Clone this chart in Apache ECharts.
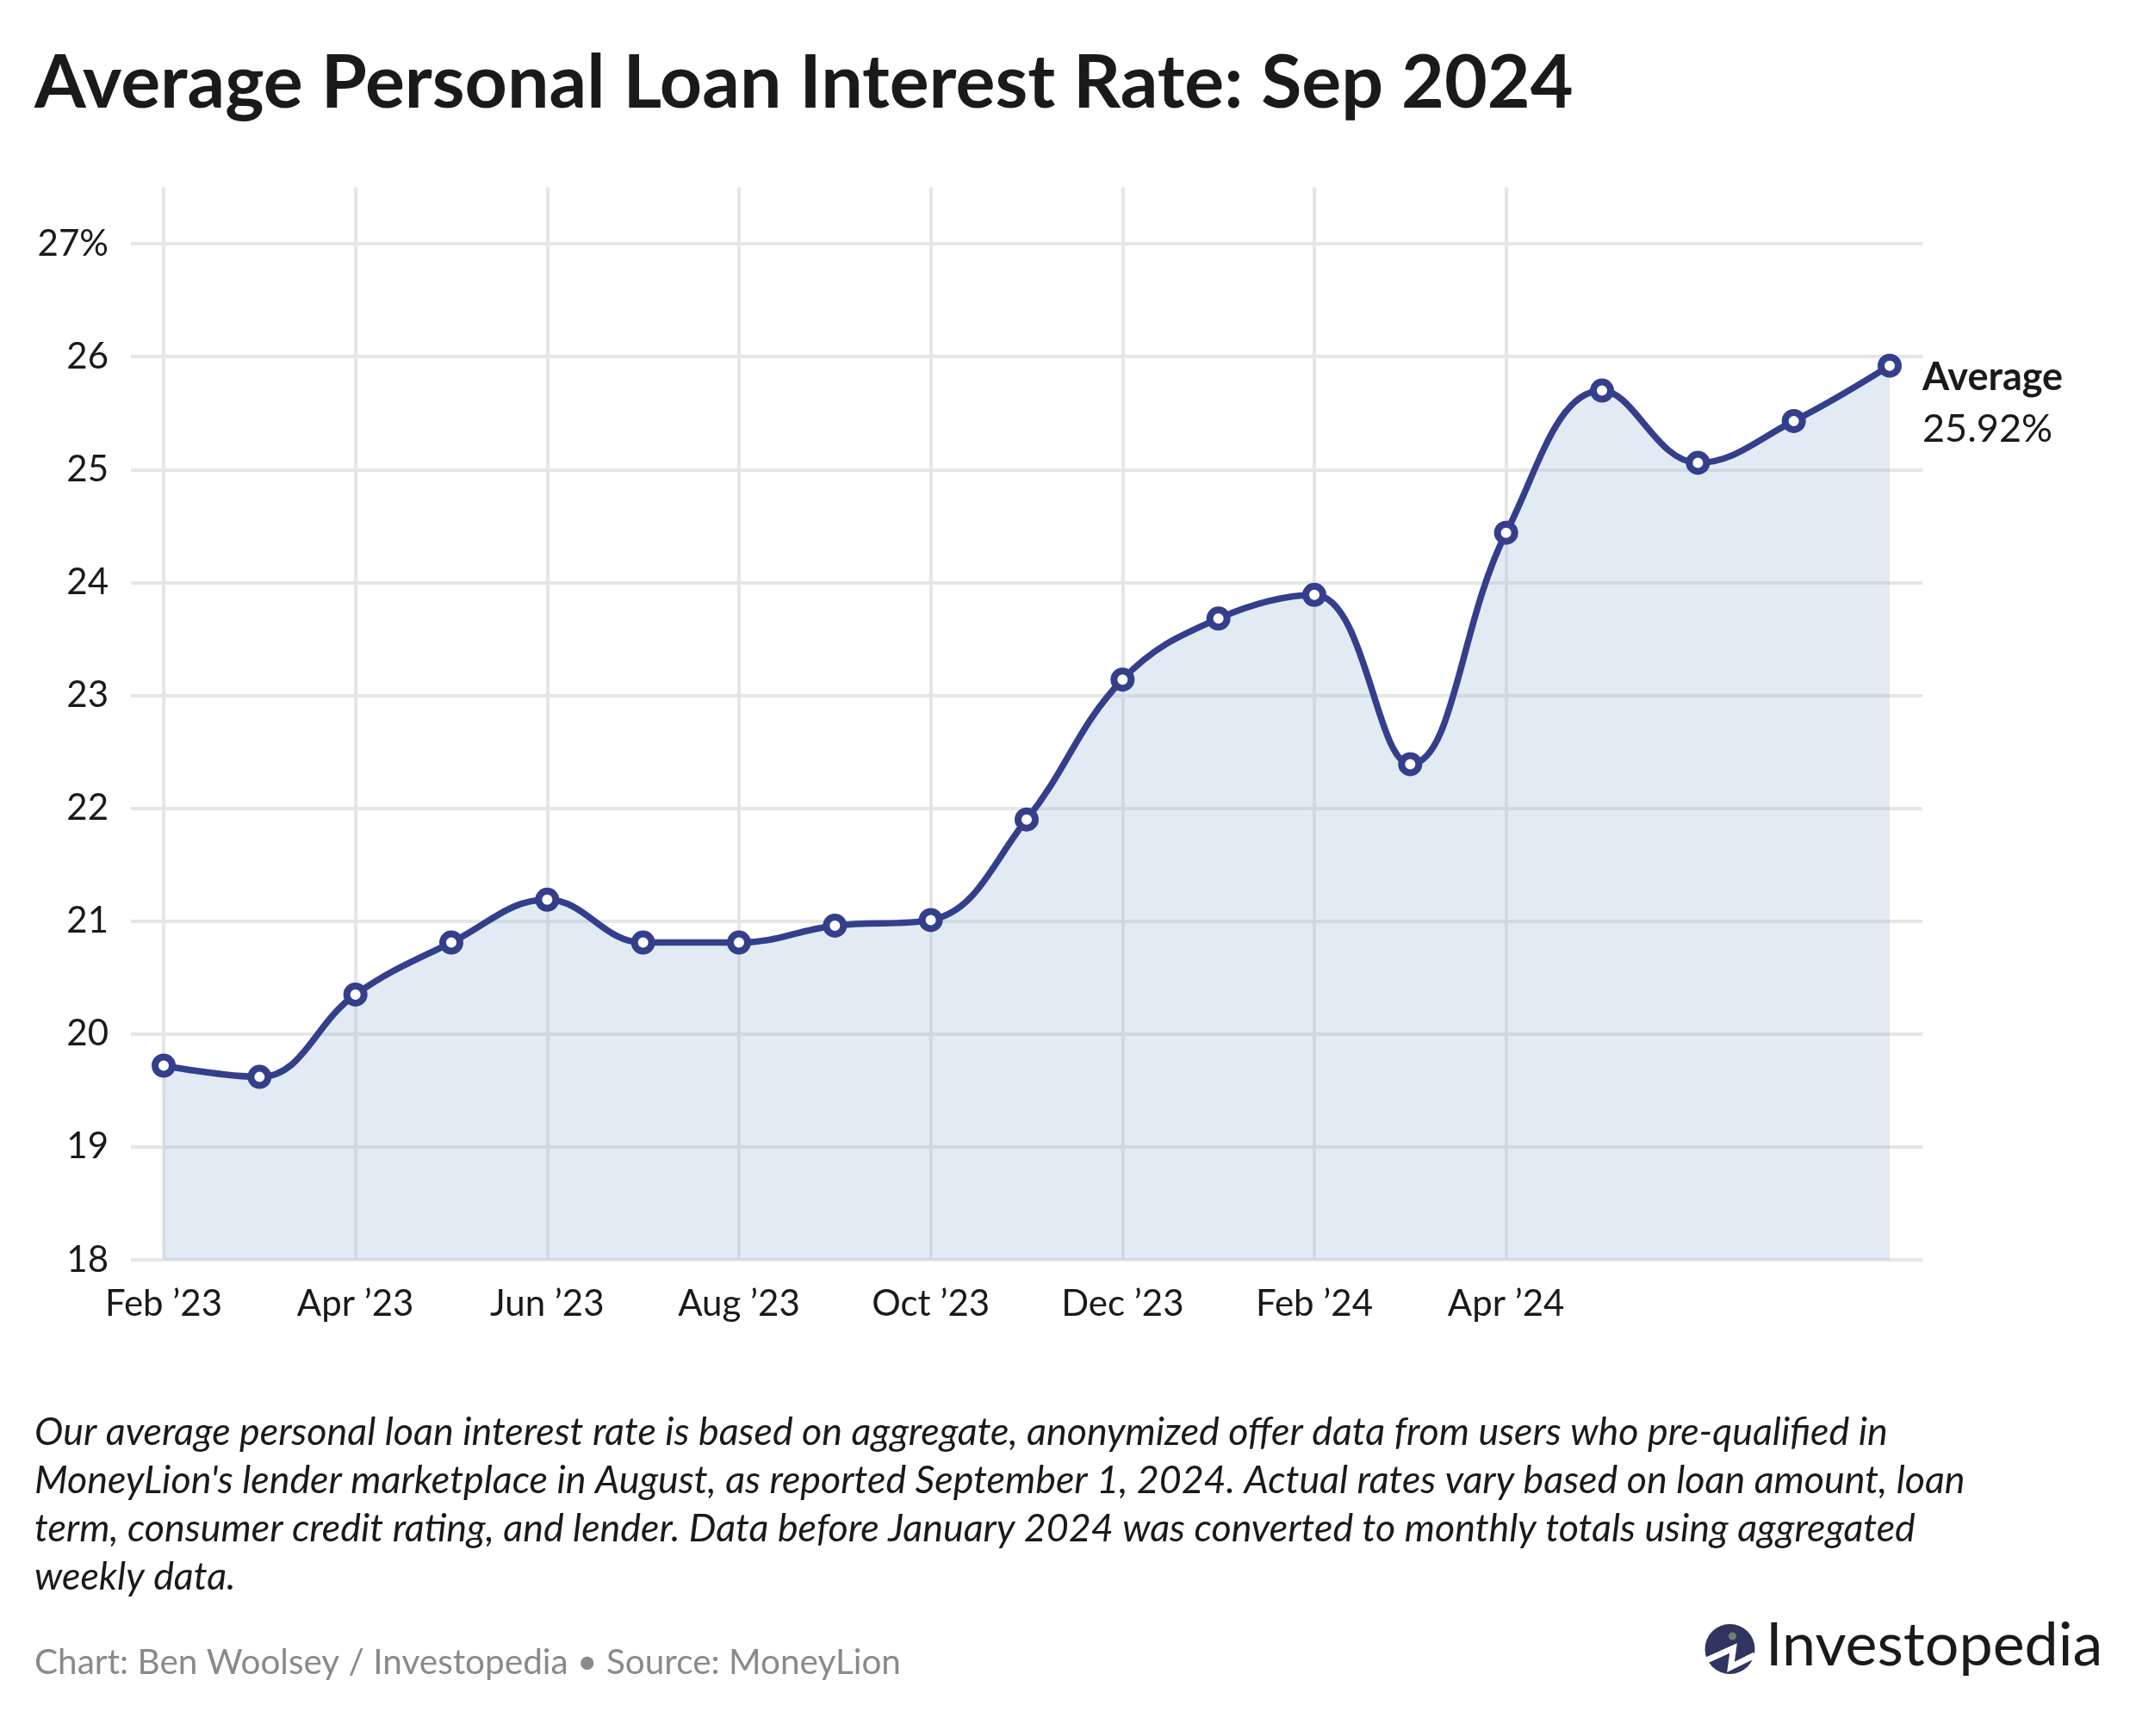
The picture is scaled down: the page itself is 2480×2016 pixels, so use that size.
<!DOCTYPE html>
<html>
<head>
<meta charset="utf-8">
<script src="https://cdn.jsdelivr.net/npm/echarts@6/dist/echarts.min.js"></script>
<style>
html,body{margin:0;padding:0;background:#fff;}
#chart{width:2480px;height:2016px;}
</style>
</head>
<body>
<div id="chart"></div>
<script>
// ---- data ----
const months = ["Feb ’23","Mar ’23","Apr ’23","May ’23","Jun ’23","Jul ’23","Aug ’23","Sep ’23","Oct ’23","Nov ’23","Dec ’23","Jan ’24","Feb ’24","Mar ’24","Apr ’24","May ’24","Jun ’24","Jul ’24","Aug ’24"];
const rates = [19.72,19.62,20.35,20.81,21.19,20.81,20.81,20.96,21.01,21.90,23.14,23.68,23.89,22.39,24.44,25.70,25.06,25.43,25.92];
const labeledMonths = ["Feb ’23","Apr ’23","Jun ’23","Aug ’23","Oct ’23","Dec ’23","Feb ’24","Apr ’24"];
const yMin = 18, yMax = 27, yStep = 1;
const seriesName = "Average";
const titleText = "Average Personal Loan Interest Rate: Sep 2024";
const noteLines = [
  "Our average personal loan interest rate is based on aggregate, anonymized offer data from users who pre-qualified in",
  "MoneyLion's lender marketplace in August, as reported September 1, 2024. Actual rates vary based on loan amount, loan",
  "term, consumer credit rating, and lender. Data before January 2024 was converted to monthly totals using aggregated",
  "weekly data."
];
const creditText = "Chart: Ben Woolsey / Investopedia • Source: MoneyLion";

// ---- layout / style ----
const FONT = "Lato, 'Noto Sans', sans-serif";
const INK = "#1a1a1a";
const LINE = "#343f8b";
const GRIDC = "#e6e6e6";
const y18 = 1463, unit = 131.1;

const chart = echarts.init(document.getElementById('chart'), null, {renderer: 'canvas'});
const showIdx = (i) => labeledMonths.indexOf(months[i]) >= 0;

const option = {
  backgroundColor: '#ffffff',
  animation: false,
  textStyle: {fontFamily: FONT},
  grid: [
    {left: 152, right: 248, top: y18 - (yMax - yMin) * unit, bottom: 2016 - y18},
    {left: 190, right: 286, top: y18 - (yMax + 0.5 - yMin) * unit, bottom: 2016 - y18}
  ],
  xAxis: [
    {gridIndex: 0, type: 'value', min: 0, max: 1, show: false},
    {
      gridIndex: 1, type: 'category', data: months, boundaryGap: false,
      axisLine: {show: false}, axisTick: {show: false},
      axisLabel: {
        interval: (i) => showIdx(i),
        margin: 30, fontSize: 42, color: INK, fontFamily: FONT
      },
      splitLine: {show: true, interval: (i) => showIdx(i), lineStyle: {color: GRIDC, width: 4}}
    }
  ],
  yAxis: [
    {
      gridIndex: 0, type: 'value', min: yMin, max: yMax, interval: yStep,
      axisLine: {show: false}, axisTick: {show: false},
      axisLabel: {
        margin: 26, fontSize: 42, color: INK, fontFamily: FONT,
        formatter: (v) => v === yMax ? v + '%' : String(v)
      },
      splitLine: {show: true, lineStyle: {color: GRIDC, width: 4}}
    },
    {gridIndex: 1, type: 'value', min: yMin, max: yMax + 0.5, show: false}
  ],
  series: [{
    name: seriesName,
    type: 'line',
    xAxisIndex: 1, yAxisIndex: 1,
    data: rates,
    smooth: 0.4,
    symbol: 'circle',
    symbolSize: 20,
    showAllSymbol: true,
    itemStyle: {color: '#ffffff', borderColor: LINE, borderWidth: 8},
    lineStyle: {color: LINE, width: 7.5},
    areaStyle: {color: 'rgba(150,180,217,0.4)'},
    z: 3,
    endLabel: {
      show: true,
      distance: 38,
      offset: [0, 44],
      formatter: (p) => '{b|' + p.seriesName + '}\n{v|' + p.value.toFixed(2) + '%}',
      rich: {
        b: {fontFamily: FONT, fontWeight: 'bold', fontSize: 45, lineHeight: 60, color: INK},
        v: {fontFamily: FONT, fontSize: 45, lineHeight: 60, color: INK}
      }
    }
  }],
  graphic: [
    {type: 'text', left: 40, top: 54, style: {text: titleText, font: "bold 86px " + FONT, fill: INK}},
    {type: 'text', left: 40, top: 1636, style: {text: noteLines.join('\n'), font: "italic 44.8px " + FONT, lineHeight: 56, fill: INK}},
    {type: 'text', left: 40, top: 1910, style: {text: creditText, font: "40.5px " + FONT, fill: '#8a8a8a'}},
    {type: 'group', left: 1978, top: 1886, children: [
      {type: 'circle', shape: {cx: 29, cy: 29, r: 29}, style: {fill: '#2f3560'}},
      {type: 'polyline', shape: {points: [[2, 42], [33, 28], [30, 50], [58, 36]]}, style: {stroke: '#fff', lineWidth: 7, fill: null, lineJoin: 'miter'}},
      {type: 'circle', shape: {cx: 32, cy: 14, r: 4.5}, style: {fill: '#7a7a7a'}}
    ]},
    {type: 'text', left: 2050, top: 1876, style: {text: 'Investopedia', font: "70px " + FONT, fill: INK}}
  ]
};
chart.setOption(option);
</script>
</body>
</html>
